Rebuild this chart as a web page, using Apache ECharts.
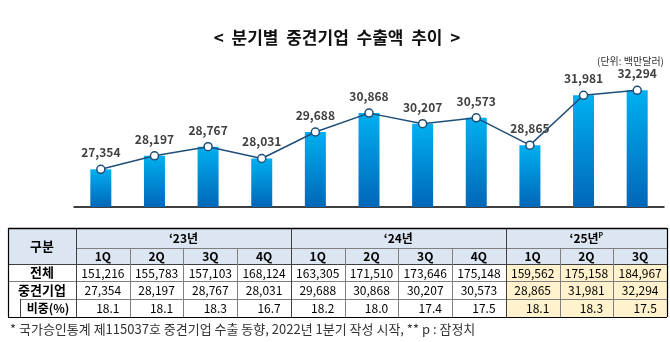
<!DOCTYPE html>
<html><head><meta charset="utf-8">
<script src="https://cdn.jsdelivr.net/npm/echarts@6/dist/echarts.min.js"></script>
<style>html,body{margin:0;padding:0;background:#fff}#c{width:670px;height:342px}</style>
</head><body><div id="c"></div>
<script>
// ---- data ----
const categories = ['23-1Q','23-2Q','23-3Q','23-4Q','24-1Q','24-2Q','24-3Q','24-4Q','25-1Q','25-2Q','25-3Q'];
const quarterLabels = ['1Q','2Q','3Q','4Q','1Q','2Q','3Q','4Q','1Q','2Q','3Q'];
const yearLabels = ['‘23년','‘24년','‘25년'];
const yearSpans = [4, 4, 3];
const midsizeExports = [27354,28197,28767,28031,29688,30868,30207,30573,28865,31981,32294];
const totalExports = [151216,155783,157103,168124,163305,171510,173646,175148,159562,175158,184967];
const sharePct = ['18.1','18.1','18.3','16.7','18.2','18.0','17.4','17.5','18.1','18.3','17.5'];
const rowLabels = ['전체','중견기업','비중(%)'];
const titleText = '<  분기별  중견기업  수출액  추이  >';
const unitText = '(단위: 백만달러)';
const footText = '* 국가승인통계 제115037호 중견기업 수출 동향, 2022년 1분기 작성 시작, ** p : 잠정치';

// ---- layout ----
const FONT = "'Noto Sans CJK KR', 'Noto Sans', sans-serif";
const fmt = v => v.toLocaleString('en-US');
const TX0 = 8, TXL = 76, TX1 = 667;
const colW = (TX1 - TXL) / categories.length;
const rowsY = [228, 248, 264, 281, 299, 317];
const g = [];
const hdrBg = '#DCE6F2', yelBg = '#FFF2CC';
const inner = '#7F7F7F', outer = '#000';

// backgrounds
g.push({type:'rect', shape:{x:TX0, y:rowsY[0], width:TX1-TX0, height:rowsY[2]-rowsY[0]}, style:{fill:hdrBg}});
g.push({type:'rect', shape:{x:TXL+8*colW, y:rowsY[2], width:3*colW, height:rowsY[5]-rowsY[2]}, style:{fill:yelBg}});

function hl(x1,x2,y,c,w){g.push({type:'line', shape:{x1:x1,y1:y,x2:x2,y2:y}, style:{stroke:c,lineWidth:w||1}});}
function vl(x,y1,y2,c,w){g.push({type:'line', shape:{x1:x,y1:y1,x2:x,y2:y2}, style:{stroke:c,lineWidth:w||1}});}
function tx(x,y,t,size,bold,extra){g.push({type:'text', x:x, y:y, style:Object.assign({text:t, font:(bold?'bold ':'')+size+'px '+FONT, fill:'#000', align:'center', verticalAlign:'middle'}, extra||{})});}

// horizontal lines
hl(TXL, TX1, rowsY[1]+0.5, inner);
hl(TX0, TX1, rowsY[2]+0.5, '#404040');
hl(TX0, TX1, rowsY[3]+0.5, inner);
hl(20, TX1, rowsY[4]+0.5, inner);
// vertical lines
vl(TXL+0.5, rowsY[0], rowsY[5], '#404040');
vl(20.5, rowsY[4], rowsY[5], '#404040');
let acc = 0;
yearSpans.forEach((s,i) => {
  const xa = TXL + acc*colW;
  tx(xa + s*colW/2, (rowsY[0]+rowsY[1])/2, i === 2 ? '{a|'+yearLabels[i]+'}{p|P}' : yearLabels[i], 12, true,
     i === 2 ? {rich:{a:{font:'bold 12px '+FONT, fill:'#000'}, p:{font:'bold 7px '+FONT, fill:'#000', verticalAlign:'top', padding:[0,0,6,0]}}} : {});
  acc += s;
  if (i < yearSpans.length-1) vl(Math.round(TXL + acc*colW)+0.5, rowsY[0], rowsY[5], '#404040');
});
for (let i = 1; i < categories.length; i++) {
  if (i === 4 || i === 8) continue;
  vl(Math.round(TXL + i*colW)+0.5, rowsY[1], rowsY[5], inner);
}
// outer border
hl(TX0, TX1, rowsY[0]+0.5, outer, 1.5);
hl(TX0, TX1, rowsY[5]+0.5, outer, 1.2);
vl(TX0+0.5, rowsY[0], rowsY[5], outer, 1.2);
vl(TX1+0.5, rowsY[0], rowsY[5], outer, 1.2);

// header texts
tx((TX0+TXL)/2, (rowsY[0]+rowsY[2])/2, '구분', 13, true);
quarterLabels.forEach((q,i) => tx(TXL + (i+0.5)*colW, (rowsY[1]+rowsY[2])/2, q, 12, true));
tx((TX0+TXL)/2, (rowsY[2]+rowsY[3])/2, rowLabels[0], 13, true);
tx((TX0+TXL)/2, (rowsY[3]+rowsY[4])/2, rowLabels[1], 13, true);
tx((20+TXL)/2, (rowsY[4]+rowsY[5])/2, rowLabels[2], 12, true);
categories.forEach((c,i) => {
  const cx = TXL + (i+0.5)*colW;
  tx(cx, (rowsY[2]+rowsY[3])/2+0.5, fmt(totalExports[i]), 12, false);
  tx(cx, (rowsY[3]+rowsY[4])/2+0.5, fmt(midsizeExports[i]), 12, false);
  tx(cx+5, (rowsY[4]+rowsY[5])/2+0.5, sharePct[i], 12, false);
});
// title, unit, footnote
tx(337, 38, titleText, 17, true, {fill:'#111'});
tx(664, 61, unitText, 10, false, {align:'right', fill:'#333'});
tx(10, 329, footText, 13, false, {align:'left', fill:'#333'});

const chart = echarts.init(document.getElementById('c'), null, {renderer:'canvas'});
chart.setOption({
  animation:false,
  backgroundColor:'#fff',
  grid:{left:74, right:6, top:47, bottom:135, containLabel:false},
  xAxis:{type:'category', data:categories, axisLine:{lineStyle:{color:'#000', width:1.5}}, axisTick:{show:false}, axisLabel:{show:false}},
  yAxis:{type:'value', min:25000, max:35000, show:false, splitLine:{show:false}},
  series:[
    {type:'bar', data:midsizeExports, barWidth:21,
     itemStyle:{color:new echarts.graphic.LinearGradient(0,0,0,1,[{offset:0,color:'#00B0F0'},{offset:1,color:'#0066B8'}])}},
    {type:'line', data:midsizeExports, symbol:'circle', symbolSize:8,
     lineStyle:{color:'#1F4E79', width:1.5},
     itemStyle:{color:'#fff', borderColor:'#1F4E79', borderWidth:1.5},
     label:{show:true, position:'top', distance:6, color:'#404040', fontWeight:'bold', fontSize:12, fontFamily:FONT, formatter:p=>fmt(p.value)}}
  ],
  graphic:{elements:g}
});
</script></body></html>
